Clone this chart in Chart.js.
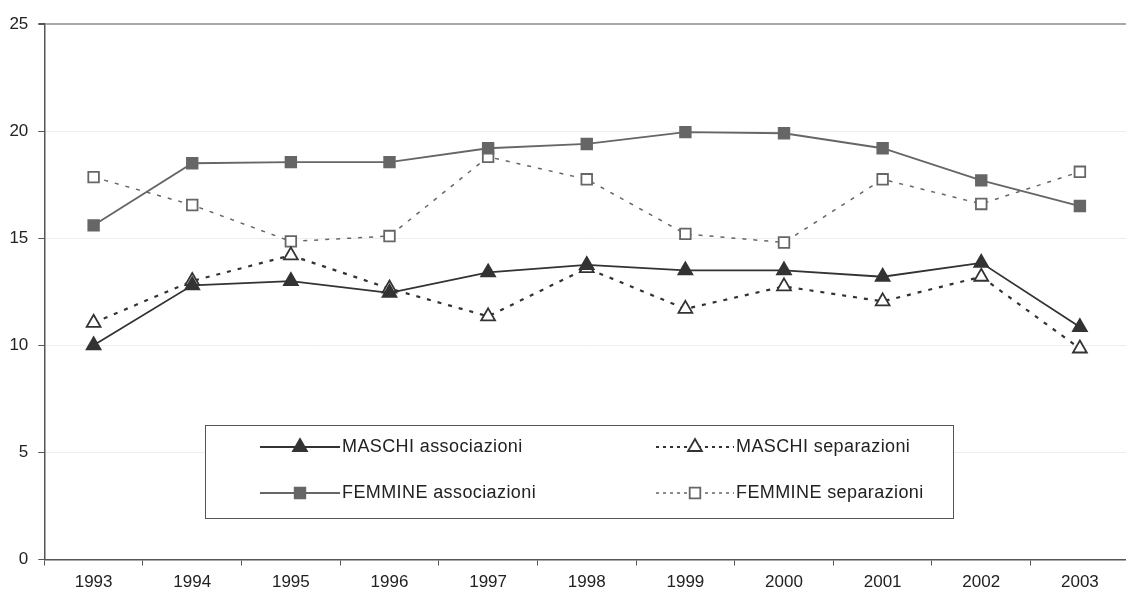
<!DOCTYPE html>
<html>
<head>
<meta charset="utf-8">
<script src="https://cdn.jsdelivr.net/npm/chart.js@4"></script>
<style>
  html, body { margin: 0; padding: 0; background: #fff; overflow: hidden; }
  #wrap { width: 1126px; height: 592px; overflow: hidden; }
</style>
</head>
<body>
<div id="wrap"><canvas id="chart" width="1139" height="592"></canvas></div>
<script>
/* data */
var years = ['1993', '1994', '1995', '1996', '1997', '1998', '1999', '2000', '2001', '2002', '2003'];
var maschiAssociazioni = [10.0, 12.8, 13.0, 12.45, 13.4, 13.75, 13.5, 13.5, 13.2, 13.85, 10.85];
var maschiSeparazioni = [11.05, 13.0, 14.2, 12.65, 11.35, 13.6, 11.7, 12.75, 12.05, 13.2, 9.85];
var femmineAssociazioni = [15.6, 18.5, 18.55, 18.55, 19.2, 19.4, 19.95, 19.9, 19.2, 17.7, 16.5];
var femmineSeparazioni = [17.85, 16.55, 14.85, 15.1, 18.8, 17.75, 15.2, 14.8, 17.75, 16.6, 18.1];
var seriesNames = ['MASCHI associazioni', 'MASCHI separazioni', 'FEMMINE associazioni', 'FEMMINE separazioni'];
var yTicks = [0, 5, 10, 15, 20, 25];

var FONT = '"Liberation Sans", Arial, sans-serif';

function drawMarker(ctx, style, x, y, r, fill, stroke, lw) {
    ctx.save();
    ctx.beginPath();
    if (style == 'triangle') {
        ctx.moveTo(x, y - r);
        ctx.lineTo(x + r * Math.sqrt(3) / 2, y + r / 2);
        ctx.lineTo(x - r * Math.sqrt(3) / 2, y + r / 2);
        ctx.closePath();
    } else {
        var s = Math.SQRT1_2 * r;
        ctx.rect(x - s, y - s, 2 * s, 2 * s);
    }
    ctx.fillStyle = fill;
    ctx.fill();
    ctx.lineWidth = lw;
    ctx.strokeStyle = stroke;
    ctx.setLineDash([]);
    ctx.stroke();
    ctx.restore();
};

/* boxed legend sitting inside the plot */
var boxLegend = {
    id: 'boxLegend',
    afterDraw: function (chart) {
        var ctx = chart.ctx;
        ctx.save();
        ctx.fillStyle = '#fff';
        ctx.fillRect(205.5, 425.5, 748, 93);
        ctx.strokeStyle = '#555';
        ctx.lineWidth = 1;
        ctx.strokeRect(205.5, 425.5, 748, 93);

        var cols = [[260, 340, 342], [656, 734, 736]];
        var rows = [447, 493];
        chart.data.datasets.forEach(function (ds, i) {
            var c = cols[i % 2];
            var y = rows[Math.floor(i / 2)];
            ctx.save();
            ctx.strokeStyle = ds.borderColor;
            ctx.lineWidth = ds.borderWidth;
            ctx.setLineDash(ds.borderDash.length ? [3, 4] : []);
            ctx.beginPath();
            ctx.moveTo(c[0], y);
            ctx.lineTo(c[1], y);
            ctx.stroke();
            ctx.restore();
            drawMarker(ctx, ds.pointStyle, (c[0] + c[1]) / 2, y, ds.pointRadius,
                ds.pointBackgroundColor, ds.pointBorderColor, ds.pointBorderWidth);
            ctx.save();
            ctx.fillStyle = '#222';
            ctx.font = '18px ' + FONT;
            ctx.letterSpacing = '0.4px';
            ctx.textBaseline = 'middle';
            ctx.textAlign = 'left';
            ctx.fillText(ds.label, c[2], y);
            ctx.restore();
        });
        ctx.restore();
    }
};

function makeSet(name, values, color, width, dash, style, filled) {
    return {
        label: name,
        data: values,
        borderColor: color,
        borderWidth: width,
        borderDash: dash,
        pointStyle: style,
        pointRadius: style == 'triangle' ? 8 : 7.5,
        pointHoverRadius: 8,
        pointBackgroundColor: filled ? color : '#fff',
        pointBorderColor: color,
        pointBorderWidth: 1.8,
        tension: 0,
        fill: false
    };
};

var chart = new Chart(document.getElementById('chart'), {
    type: 'line',
    data: {
        labels: years,
        datasets: [
            makeSet(seriesNames[0], maschiAssociazioni, '#333', 1.8, [], 'triangle', true),
            makeSet(seriesNames[1], maschiSeparazioni, '#333', 2.2, [4, 7], 'triangle', false),
            makeSet(seriesNames[2], femmineAssociazioni, '#666', 1.8, [], 'rect', true),
            makeSet(seriesNames[3], femmineSeparazioni, '#666', 1.5, [4, 7], 'rect', false)
        ]
    },
    options: {
        responsive: false,
        animation: false,
        devicePixelRatio: 1,
        layout: { padding: { top: 24, right: 0, left: 0, bottom: 0 } },
        plugins: {
            legend: { display: false },
            tooltip: { enabled: false }
        },
        scales: {
            x: {
                offset: true,
                grid: {
                    offset: true,
                    drawOnChartArea: false,
                    drawTicks: true,
                    tickLength: 6,
                    tickColor: '#555'
                },
                border: { color: '#555', width: 1.5 },
                ticks: {
                    color: '#222',
                    padding: 7,
                    maxRotation: 0,
                    autoSkip: false,
                    font: { family: FONT, size: 17 }
                },
                afterFit: function (scale) { scale.height = 32.5; }
            },
            y: {
                min: 0,
                max: 25,
                afterBuildTicks: function (scale) {
                    scale.ticks = yTicks.map(function (v) { return { value: v }; });
                },
                grid: {
                    color: function (c) { return c.tick && c.tick.value == 25 ? '#aaa' : '#eee'; },
                    lineWidth: function (c) { return c.tick && c.tick.value == 25 ? 2 : 1; },
                    tickLength: 6,
                    tickColor: '#555'
                },
                border: { color: '#555', width: 1.5 },
                ticks: {
                    color: '#222',
                    padding: 10,
                    font: { family: FONT, size: 17 }
                },
                afterFit: function (scale) { scale.width = 44.3; }
            }
        }
    },
    plugins: [boxLegend]
});
</script>
</body>
</html>
